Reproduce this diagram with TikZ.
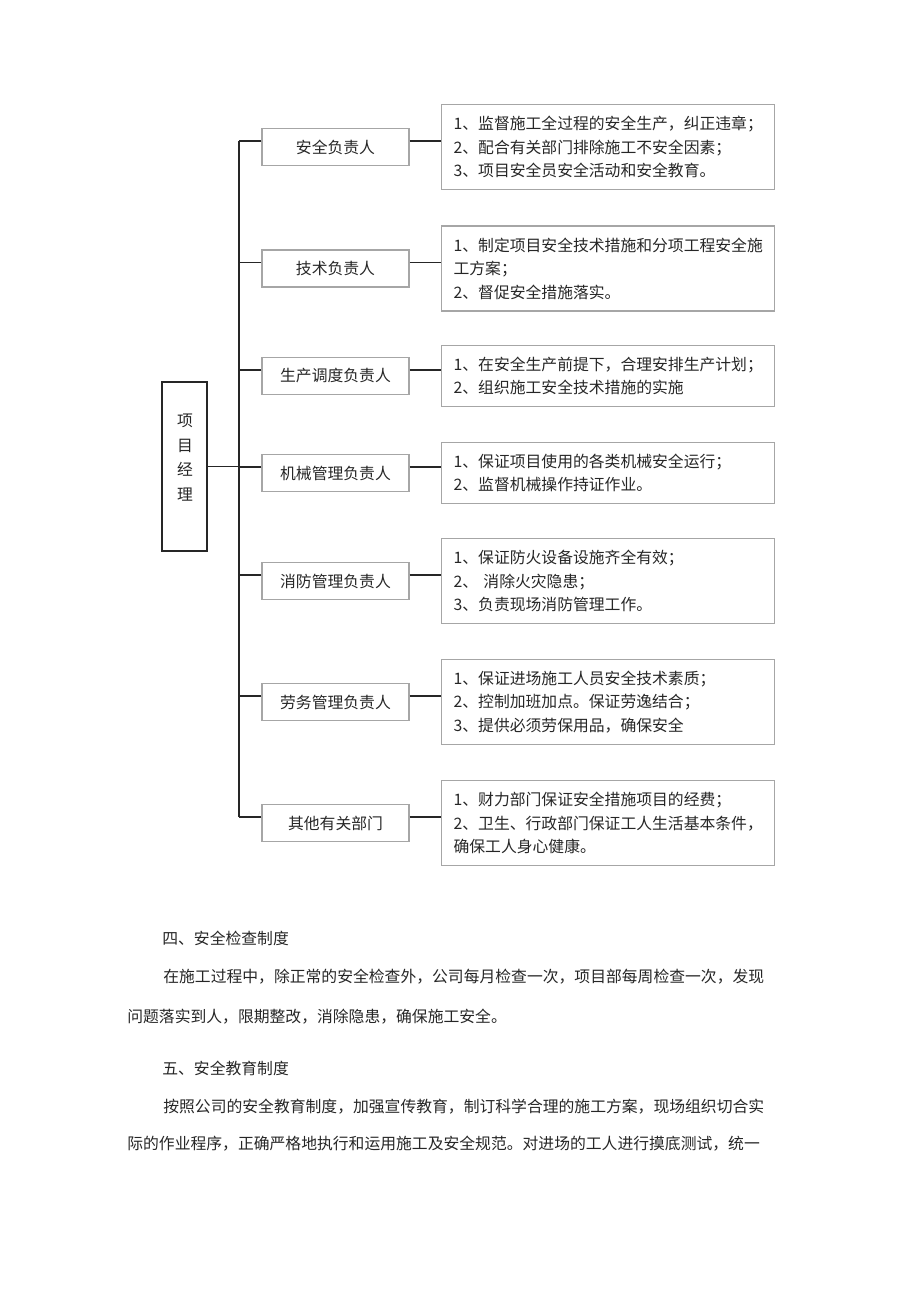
\documentclass[tikz,border=0pt]{standalone}
\usepackage{fontspec}
\setmainfont{Noto Sans CJK SC}
\usepackage{tikz}
% glue between Chinese characters, used to spread the text lines
\newcommand\spreadzh{\XeTeXlinebreaklocale "zh"\XeTeXlinebreakskip=0pt plus 1pt\relax}
\tikzset{
  role/.style={draw=gray!70, line width=0.7pt, minimum width=2.94cm, minimum height=0.74cm, inner sep=0pt},
  duty/.style={draw=gray!70, line width=0.7pt, anchor=west, minimum width=6.66cm,
    text width=6.18cm, inner xsep=0.24cm, inner ysep=0pt, align=left},
  link/.style={line width=1pt, black!85},
  para/.style={anchor=west, inner sep=0pt, font=\spreadzh\fontsize{9}{12}\selectfont}
}

\begin{document}
\begin{tikzpicture}[x=0.02cm, y=-0.02cm, font=\fontsize{9}{13.4}\selectfont, text=black!85]
  % page 920 x 1301, one unit = one pixel of the scan
  \useasboundingbox (0,0) rectangle (920,1301);
  \coordinate (spine) at (239,0);
  % project manager on the left
  \node[draw=black!85, line width=1pt, minimum width=0.9cm, minimum height=3.38cm] (pm) at (184.5,466.5) {};
  \node[align=center, font=\fontsize{9}{13.9}\selectfont] (pmtext) at (185,457.5) {项\\目\\经\\理};
  % people in charge, middle column
  \node[role] (r1) at (335.5,147)   {安全负责人};
  \node[role] (r2) at (335.5,268.5) {技术负责人};
  \node[role] (r3) at (335.5,376)   {生产调度负责人};
  \node[role] (r4) at (335.5,473)   {机械管理负责人};
  \node[role] (r5) at (335.5,581)   {消防管理负责人};
  \node[role] (r6) at (335.5,702)   {劳务管理负责人};
  \node[role] (r7) at (335.5,823)   {其他有关部门};
  % duties, right column
  \node[duty, minimum height=1.7cm]  (d1) at (441,147)   {1、监督施工全过程的安全生产，纠正违章；\\2、配合有关部门排除施工不安全因素；\\3、项目安全员安全活动和安全教育。};
  \node[duty, minimum height=1.7cm]  (d2) at (441,268.5) {1、制定项目安全技术措施和分项工程安全施\\工方案；\\2、督促安全措施落实。};
  \node[duty, minimum height=1.22cm] (d3) at (441,376)   {1、在安全生产前提下，合理安排生产计划；\\2、组织施工安全技术措施的实施};
  \node[duty, minimum height=1.22cm] (d4) at (441,473)   {1、保证项目使用的各类机械安全运行；\\2、监督机械操作持证作业。};
  \node[duty, minimum height=1.7cm]  (d5) at (441,581)   {1、保证防火设备设施齐全有效；\\2、 消除火灾隐患；\\3、负责现场消防管理工作。};
  \node[duty, minimum height=1.7cm]  (d6) at (441,702)   {1、保证进场施工人员安全技术素质；\\2、控制加班加点。保证劳逸结合；\\3、提供必须劳保用品，确保安全};
  \node[duty, minimum height=1.7cm]  (d7) at (441,823)   {1、财力部门保证安全措施项目的经费；\\2、卫生、行政部门保证工人生活基本条件，\\确保工人身心健康。};
  % spine and branches (branches sit a third down each box)
  \draw[link] ([yshift=0.12cm]r1.west -| spine) -- ([yshift=0.12cm]r7.west -| spine);
  \draw[link] (pm.east) -- (pm.east -| spine);
  \draw[link] ([yshift=0.12cm]r1.west) -- ([yshift=0.12cm]r1.west -| spine);
  \draw[link] ([yshift=0.12cm]r2.west) -- ([yshift=0.12cm]r2.west -| spine);
  \draw[link] ([yshift=0.12cm]r3.west) -- ([yshift=0.12cm]r3.west -| spine);
  \draw[link] ([yshift=0.12cm]r4.west) -- ([yshift=0.12cm]r4.west -| spine);
  \draw[link] ([yshift=0.12cm]r5.west) -- ([yshift=0.12cm]r5.west -| spine);
  \draw[link] ([yshift=0.12cm]r6.west) -- ([yshift=0.12cm]r6.west -| spine);
  \draw[link] ([yshift=0.12cm]r7.west) -- ([yshift=0.12cm]r7.west -| spine);
  \draw[link] ([yshift=0.12cm]r1.east) -- ([yshift=0.12cm]r1.east -| d1.west);
  \draw[link] ([yshift=0.12cm]r2.east) -- ([yshift=0.12cm]r2.east -| d2.west);
  \draw[link] ([yshift=0.12cm]r3.east) -- ([yshift=0.12cm]r3.east -| d3.west);
  \draw[link] ([yshift=0.12cm]r4.east) -- ([yshift=0.12cm]r4.east -| d4.west);
  \draw[link] ([yshift=0.12cm]r5.east) -- ([yshift=0.12cm]r5.east -| d5.west);
  \draw[link] ([yshift=0.12cm]r6.east) -- ([yshift=0.12cm]r6.east -| d6.west);
  \draw[link] ([yshift=0.12cm]r7.east) -- ([yshift=0.12cm]r7.east -| d7.west);
  % running text under the chart
  \node[para] (h4) at (162,938)  {\makebox[2.86cm][s]{四、安全检查制度}};
  \node[para] (t4a) at (163,977)  {\makebox[12.86cm][s]{在施工过程中，除正常的安全检查外，公司每月检查一次，项目部每周检查一次，发现}};
  \node[para] (t4b) at (127,1017) {\makebox[8.14cm][s]{问题落实到人，限期整改，消除隐患，确保施工安全。}};
  \node[para] (h5) at (162,1068) {\makebox[2.86cm][s]{五、安全教育制度}};
  \node[para] (t5a) at (163,1107) {\makebox[12.86cm][s]{按照公司的安全教育制度，加强宣传教育，制订科学合理的施工方案，现场组织切合实}};
  \node[para] (t5b) at (127,1144) {\makebox[13.6cm][s]{际的作业程序，正确严格地执行和运用施工及安全规范。对进场的工人进行摸底测试，统一}};
\end{tikzpicture}
\end{document}
